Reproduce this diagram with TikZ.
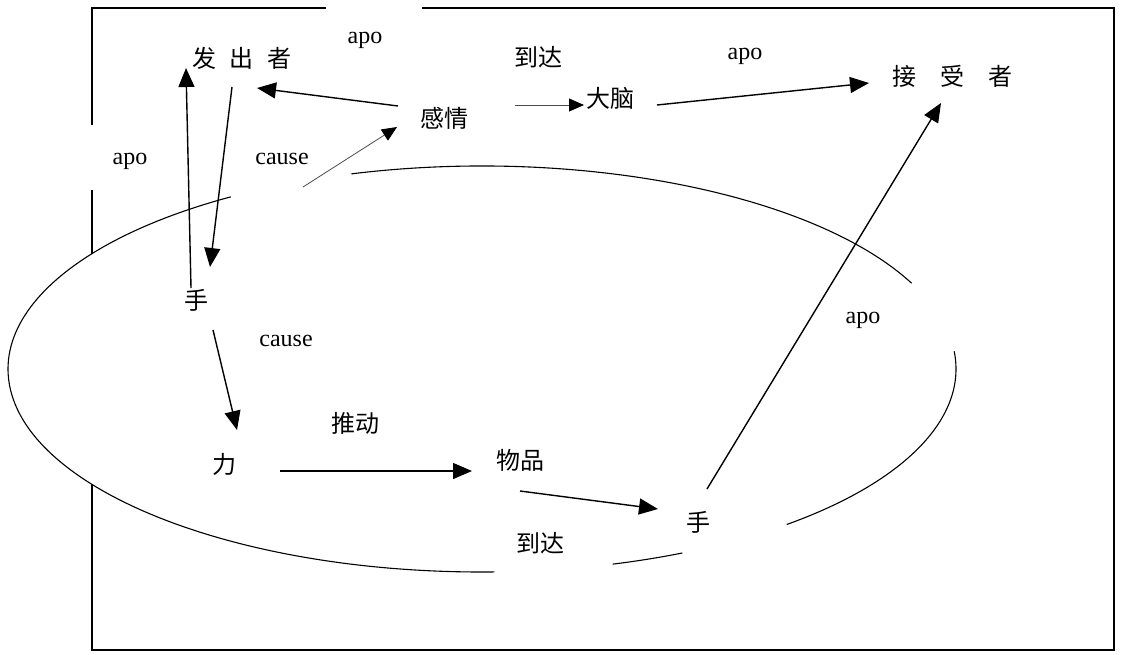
\documentclass[tikz,border=0pt]{standalone}
\usepackage{fontspec}
\setmainfont{Liberation Serif}
\newfontfamily\cjk{Noto Sans CJK SC}
\usetikzlibrary{arrows.meta,shapes.geometric}
\begin{document}
\begin{tikzpicture}[x=1pt,y=-1pt,
  cjktext/.style={font=\cjk\fontsize{24}{28}\selectfont, inner sep=0pt},
  lat/.style={font=\fontsize{24}{28}\selectfont, inner sep=0pt},
  frameline/.style={line width=1.6pt},
  ellline/.style={line width=1.1pt},
  arr/.style={line width=1.4pt, -{Triangle[length=19pt,width=16pt]}},
  thinarr/.style={line width=0.8pt, draw=black!70, -{Triangle[length=15pt,width=13pt,color=black]}},
]
\useasboundingbox (0,0) rectangle (1122,654);
% frame
\draw[frameline] (92,125) -- (92,8) -- (326,8);
\draw[frameline] (422,8) -- (1114,8) -- (1114,650) -- (92,650) -- (92,190);
% event ellipse (white-filled, drawn with gaps)
\node[ellipse, fill=white, minimum width=948pt, minimum height=406pt, inner sep=0pt] (event) at (482,369) {};
\draw[ellline] (event.center) ++(106:474pt and 203pt) arc[start angle=106,end angle=25,x radius=474pt,y radius=203pt];
\draw[ellline] (event.center) ++(5:474pt and 203pt) arc[start angle=5,end angle=-50,x radius=474pt,y radius=203pt];
\draw[ellline] (event.center) ++(-65:474pt and 203pt) arc[start angle=-65,end angle=-74,x radius=474pt,y radius=203pt];
\draw[ellline] (event.center) ++(-88.5:474pt and 203pt) arc[start angle=-88.5,end angle=-238,x radius=474pt,y radius=203pt];
% texts
\node[cjktext] (fachu) at (242,58) {发\hspace{14pt}出\hspace{14pt}者};
\node[lat] (apo1) at (365,40) {apo};
\node[cjktext] (daoda1) at (538,57) {到达};
\node[lat] (apo2) at (745,56) {apo};
\node[cjktext] (jieshou) at (952,76) {接\hspace{24pt}受\hspace{24pt}者};
\node[cjktext] (ganqing) at (444,118) {感情};
\node[cjktext] (danao) at (610,98) {大脑};
\node[lat] (apo3) at (130,161) {apo};
\node[lat] (cause1) at (282,159) {cause};
\node[cjktext] (shou1) at (196,300) {手};
\node[lat] (cause2) at (286,341) {cause};
\node[cjktext] (li) at (224,464) {力};
\node[cjktext] (tuidong) at (355,423) {推动};
\node[cjktext] (wupin) at (520,460) {物品};
\node[cjktext] (shou2) at (698,522) {手};
\node[cjktext] (daoda2) at (540,543) {到达};
\node[lat] (apo4) at (863,320) {apo};
% connectors
\draw[arr] ([shift={(-5,-12)}]shou1.center) -- ([shift={(-56,10)}]fachu.center);
\draw[arr] ([shift={(-10,29)}]fachu.center) -- ([shift={(14,-33)}]shou1.center);
\draw[arr] ([shift={(-46,-12)}]ganqing.center) -- ([shift={(15,30)}]fachu.center);
\draw[thinarr] ([shift={(-179,-182)}]event.center) -- ([shift={(-47,9)}]ganqing.center);
\draw[thinarr] ([shift={(71,-13)}]ganqing.center) -- ([shift={(-26,7)}]danao.center);
\draw[arr] ([shift={(47,7)}]danao.center) -- ([shift={(-83,7)}]jieshou.center);
\draw[arr] ([shift={(9,-33)}]shou2.center) -- ([shift={(-11,27)}]jieshou.center);
\draw[arr] ([shift={(17,30)}]shou1.center) -- ([shift={(13,-34)}]li.center);
\draw[arr] ([shift={(56,7)}]li.center) -- ([shift={(-48,11)}]wupin.center);
\draw[arr] ([shift={(0,31)}]wupin.center) -- ([shift={(-40,-13)}]shou2.center);
\end{tikzpicture}
\end{document}
